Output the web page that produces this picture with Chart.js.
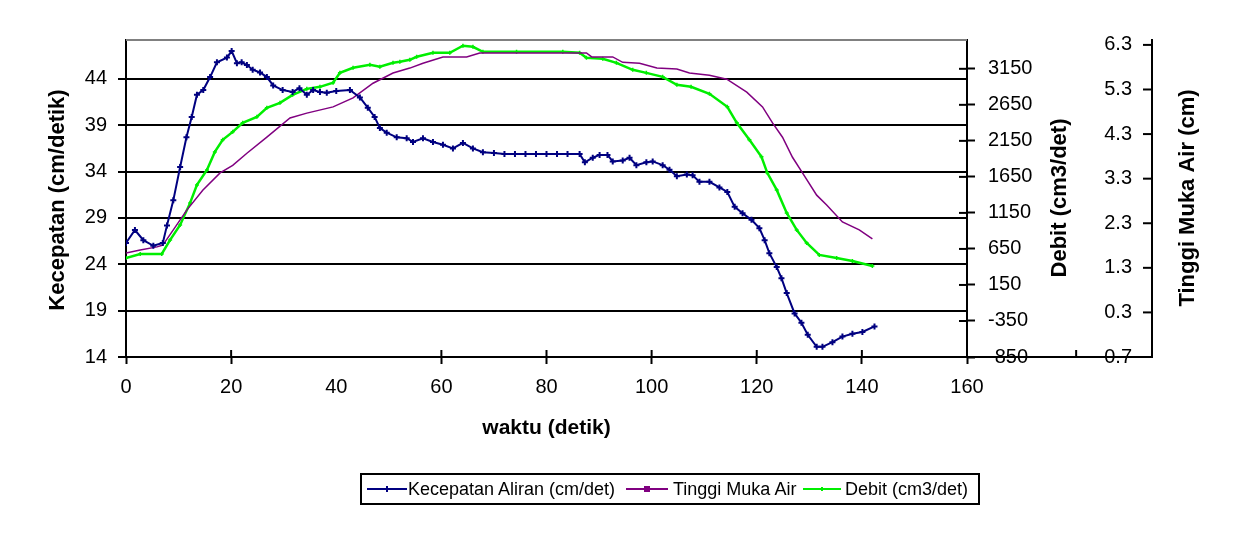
<!DOCTYPE html>
<html><head><meta charset="utf-8">
<script src="https://cdn.jsdelivr.net/npm/chart.js@4"></script>
<style>
html,body{margin:0;padding:0;background:#fff;}
#wrap{position:relative;width:1241px;height:540px;}
#legend{position:absolute;left:360px;top:473px;width:616px;height:28px;border:2px solid #000;font:18px 'Liberation Sans',Arial,sans-serif;color:#000;}
#legend span{position:absolute;top:4px;white-space:nowrap;}
#legend svg{position:absolute;top:1px;}
</style></head>
<body><div id="wrap"><canvas id="c" width="1241" height="540"></canvas>
<div id="legend">
<svg style="left:4px" width="42" height="26"><line x1="1" y1="13" x2="41" y2="13" stroke="#000080" stroke-width="2"/><line x1="21" y1="10" x2="21" y2="16" stroke="#000080" stroke-width="2"/></svg><span style="left:46px">Kecepatan Aliran (cm/det)</span>
<svg style="left:263px" width="44" height="26"><line x1="1" y1="13" x2="43" y2="13" stroke="#800080" stroke-width="2"/><rect x="19" y="10" width="6" height="6" fill="#800080"/></svg><span style="left:311px">Tinggi Muka Air</span>
<svg style="left:440px" width="40" height="26"><line x1="1" y1="13" x2="39" y2="13" stroke="#00ee00" stroke-width="2"/><line x1="20" y1="11" x2="20" y2="15" stroke="#00ee00" stroke-width="2"/></svg><span style="left:483px">Debit (cm3/det)</span>
</div></div>
<script>
// ---- data (time in s, value) ----
const kecepatan = [[0,26.3],[1.7,27.7],[3.3,26.6],[5.2,26.0],[7,26.3],[7.8,28.2],[9,30.9],[10.3,34.5],[11.5,37.7],[12.5,39.9],[13.5,42.3],[14.7,42.8],[16,44.2],[17.3,45.8],[19.2,46.3],[20.1,47.0],[21.1,45.7],[22,45.8],[23,45.5],[24.1,45.0],[25.5,44.7],[26.8,44.2],[28,43.3],[29.8,42.8],[31.7,42.6],[33,43.0],[34.4,42.3],[35.6,42.8],[36.9,42.6],[38.2,42.5],[40,42.7],[42.6,42.8],[44.5,42.0],[46,40.9],[47.3,39.9],[48.3,38.7],[49.6,38.2],[51.5,37.7],[53.4,37.6],[54.6,37.2],[56.5,37.6],[58.4,37.2],[60.3,36.9],[62.2,36.5],[64.1,37.1],[66,36.5],[67.9,36.1],[70,36.0],[72,35.9],[74,35.9],[76,35.9],[78,35.9],[80,35.9],[82,35.9],[84,35.9],[86.3,35.9],[87.3,35.0],[88.8,35.5],[90.1,35.8],[91.6,35.8],[92.6,35.1],[94.5,35.2],[95.8,35.5],[97.1,34.7],[99,35.0],[100.2,35.1],[102.1,34.7],[103.4,34.2],[104.8,33.5],[106.7,33.7],[107.8,33.6],[109.1,32.9],[111,32.9],[112.9,32.3],[114.4,31.8],[115.8,30.2],[117.3,29.5],[119,28.8],[120.5,27.9],[121.5,26.6],[122.4,25.2],[123.8,23.7],[124.7,22.5],[125.7,20.9],[127.2,18.7],[128.5,17.7],[129.7,16.4],[131.4,15.1],[132.5,15.1],[134.4,15.6],[136.3,16.2],[138.2,16.5],[140.1,16.7],[142.4,17.3]];
const tinggi = [[0,1.63],[2.7,1.70],[5.9,1.77],[7,1.81],[9,2.15],[11.6,2.60],[14.6,3.04],[17.9,3.43],[20.3,3.60],[23,3.87],[26.8,4.23],[31.2,4.66],[34.4,4.77],[39.4,4.91],[43.2,5.11],[47,5.44],[50.8,5.67],[54,5.78],[56.5,5.89],[60.3,6.03],[64.8,6.03],[67.3,6.12],[77.4,6.12],[87.6,6.12],[88.6,6.03],[92.6,6.03],[94.5,5.91],[97.7,5.89],[101,5.78],[104.8,5.76],[107.2,5.67],[111,5.62],[114.3,5.53],[118.1,5.24],[121.1,4.91],[123,4.55],[124.9,4.23],[126.8,3.78],[128.7,3.43],[131.4,2.93],[133.3,2.71],[136.3,2.33],[139.5,2.15],[142,1.95]];
const debit = [[0,525],[2.7,580],[6.8,580],[8.4,775],[10.3,983],[12.2,1289],[13.5,1539],[15.4,1747],[16.9,1997],[18.4,2164],[20.3,2275],[22.2,2400],[24.9,2483],[26.8,2608],[29.3,2678],[31.7,2789],[34.4,2872],[36.9,2900],[39.4,2956],[40.7,3094],[43.2,3164],[46.4,3206],[48.3,3178],[50.8,3233],[52.1,3247],[54,3275],[55.3,3317],[58.4,3372],[61.6,3372],[64.1,3470],[66,3456],[67.9,3386],[74.3,3386],[83.1,3386],[86.3,3372],[87.6,3303],[90.7,3289],[93.3,3233],[96.4,3136],[99,3094],[102.1,3039],[104.8,2928],[107.5,2900],[111,2803],[114.4,2622],[116.2,2400],[118.6,2164],[120.9,1928],[122,1706],[123.8,1469],[125.7,1150],[127.6,914],[129.5,733],[131.9,567],[135.2,525],[138.2,483],[142,414]];
const kecepatanTicks = [14,19,24,29,34,39,44];
const debitTicks = [-850,-350,150,650,1150,1650,2150,2650,3150];
const tinggiTicks = [-0.7,0.3,1.3,2.3,3.3,4.3,5.3,6.3];
const titles = {x:'waktu (detik)', y:'Kecepatan (cm/detik)', debit:'Debit (cm3/det)', tinggi:'Tinggi Muka Air (cm)'};

const FONT = "'Liberation Sans', Arial, sans-serif";
const toXY = arr => arr.map(p => ({x:p[0], y:p[1]}));
const setTicks = list => scale => { scale.ticks = list.map(v => ({value:v})); };
const fmt = v => String(v);

const decor = {
  id:'decor',
  beforeDatasetsDraw(chart){
    const {ctx, chartArea:a} = chart;
    ctx.save();
    ctx.strokeStyle = '#808080'; ctx.lineWidth = 2;
    ctx.beginPath(); ctx.moveTo(a.left, a.top); ctx.lineTo(a.right, a.top); ctx.stroke();
    ctx.restore();
  },
  afterDraw(chart){
    const {ctx, chartArea:a, scales} = chart;
    const x = scales.x, yD = scales.yDebit, yT = scales.yTinggi;
    ctx.save();
    ctx.strokeStyle = '#000'; ctx.lineWidth = 2;
    const line = (x1,y1,x2,y2) => { ctx.beginPath(); ctx.moveTo(x1,y1); ctx.lineTo(x2,y2); ctx.stroke(); };
    x.ticks.forEach(t => { if (t.value === 40) return; const px = x.getPixelForValue(t.value); line(px, a.bottom-7, px, a.bottom); });
    yD.ticks.forEach(t => { const py = yD.getPixelForValue(t.value); line(a.right-8, py, a.right, py); });
    yT.ticks.forEach(t => { const py = yT.getPixelForValue(t.value); line(yT.left-9, py, yT.left, py); });
    line(a.right, a.bottom, yT.left, a.bottom);
    const mx = a.right + 0.59*(yT.left - a.right);
    line(mx, a.bottom-7, mx, a.bottom);
    ctx.fillStyle = '#000';
    ctx.textAlign = 'center'; ctx.textBaseline = 'middle';
    ctx.font = 'bold 21px ' + FONT;
    ctx.fillText(titles.x, (a.left + a.right)/2, 428);
    ctx.font = 'bold 22px ' + FONT;
    const vt = (txt, cx, cy) => { ctx.save(); ctx.translate(cx, cy); ctx.rotate(-Math.PI/2); ctx.fillText(txt, 0, 0); ctx.restore(); };
    vt(titles.y, 58, 200);
    vt(titles.debit, 1060, 198);
    vt(titles.tinggi, 1188, 198);
    ctx.restore();
  }
};

new Chart(document.getElementById('c'), {
  type:'line',
  data:{datasets:[
    {label:'Kecepatan Aliran (cm/det)', data:toXY(kecepatan), yAxisID:'y', borderColor:'#000080', backgroundColor:'#000080', borderWidth:2, pointStyle:'cross', pointRadius:3, pointBorderWidth:2, tension:0},
    {label:'Tinggi Muka Air', data:toXY(tinggi), yAxisID:'yTinggi', borderColor:'#800080', backgroundColor:'#800080', borderWidth:1.5, pointRadius:0, tension:0},
    {label:'Debit (cm3/det)', data:toXY(debit), yAxisID:'yDebit', borderColor:'#00ee00', backgroundColor:'#00ee00', borderWidth:2.5, pointStyle:'cross', pointRadius:2, pointBorderWidth:1.5, tension:0}
  ]},
  options:{
    responsive:false, animation:false, devicePixelRatio:1,
    layout:{padding:{top:40,left:0,right:0,bottom:0}},
    plugins:{legend:{display:false}, tooltip:{enabled:false}},
    font:{family:FONT},
    scales:{
      x:{type:'linear', min:0, max:160,
        ticks:{stepSize:20, color:'#000', font:{family:FONT,size:20}, padding:11, maxRotation:0},
        grid:{display:true, drawOnChartArea:false, tickLength:7, tickWidth:2, tickColor:c => (c.tick && c.tick.value===40) ? 'rgba(0,0,0,0)' : '#000'},
        border:{display:true, color:'#000', width:2},
        afterFit:s => { s.height = 183; }
      },
      y:{type:'linear', position:'left', min:14, max:48.2,
        afterBuildTicks:setTicks(kecepatanTicks),
        ticks:{color:'#000', font:{family:FONT,size:20}, padding:11, callback:fmt},
        grid:{color:'#000', lineWidth:2, tickLength:8},
        border:{display:true, color:'#000', width:2},
        afterFit:s => { s.width = 126; }
      },
      yDebit:{type:'linear', position:'right', weight:0, min:-850, max:3550,
        afterBuildTicks:setTicks(debitTicks),
        ticks:{color:'#000', font:{family:FONT,size:20}, padding:13, callback:fmt},
        grid:{drawOnChartArea:false, tickLength:8, tickWidth:2, color:'#000'},
        border:{display:true, color:'#000', width:2},
        afterFit:s => { s.width = 185; }
      },
      yTinggi:{type:'linear', position:'right', weight:1, min:-0.7, max:6.41,
        afterBuildTicks:setTicks(tinggiTicks),
        ticks:{color:'#000', font:{family:FONT,size:20}, mirror:true, padding:-20, callback:v => v.toFixed(1)},
        grid:{display:false},
        border:{display:true, color:'#000', width:2},
        afterFit:s => { s.width = 89; }
      }
    }
  },
  plugins:[decor]
});
</script></body></html>
